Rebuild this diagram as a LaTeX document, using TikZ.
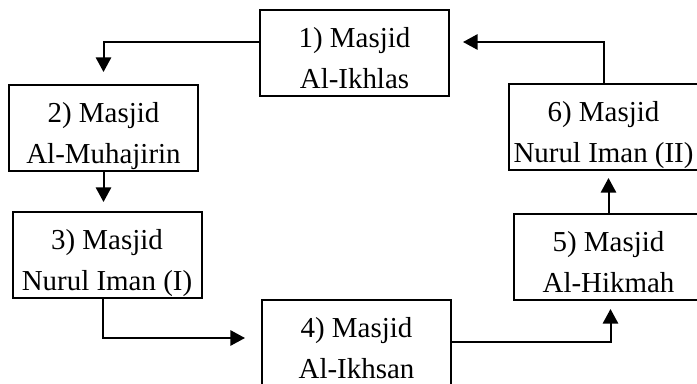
\documentclass[tikz,border=0pt]{standalone}
\usepackage{fontspec}
\setmainfont{Liberation Serif}
\usetikzlibrary{arrows.meta}

\begin{document}
\begin{tikzpicture}[
  x=0.75pt, y=-0.75pt,
  masjid/.style={draw=black, line width=1.5pt, font=\fontsize{21.7}{31}\selectfont, minimum width=141.75pt, minimum height=64.5pt, inner sep=0pt, align=center, text height=56pt, text depth=3pt},
  arrow/.style={line width=1.5pt, ->, >={Triangle[length=11pt, width=11.5pt]}}
]
  \useasboundingbox (0,0) rectangle (697,383);
  \clip (0,0) rectangle (697,383);

  \node (m1) [masjid] at (354.5,53) {1) Masjid\\Al-Ikhlas};
  \node (m2) [masjid] at (103.5,128) {2) Masjid\\Al-Muhajirin};
  \node (m3) [masjid] at (107,255) {3) Masjid\\Nurul Iman (I)};
  \node (m4) [masjid] at (356.5,343) {4) Masjid\\Al-Ikhsan};
  \node (m5) [masjid] at (608.5,257) {5) Masjid\\Al-Hikmah};
  \node (m6) [masjid] at (603.5,127) {6) Masjid\\Nurul Iman (II)};

  \draw [arrow, shorten >=9pt] ([yshift=8.25pt]m1.west) -| (m2.north);
  \draw [arrow, shorten >=6.75pt] (m2.south) -- (m2.south |- m3.north);
  \draw [arrow, shorten >=12pt] ([xshift=-3pt]m3.south) |- ([yshift=3.75pt]m4.west);
  \draw [arrow, shorten >=6pt] ([yshift=0.75pt]m4.east) -| ([xshift=1.5pt]m5.south);
  \draw [arrow, shorten >=5.25pt] (m5.north) -- (m5.north |- m6.south);
  \draw [arrow, shorten >=9.75pt] (m6.north) |- ([yshift=8.25pt]m1.east);
\end{tikzpicture}
\end{document}
